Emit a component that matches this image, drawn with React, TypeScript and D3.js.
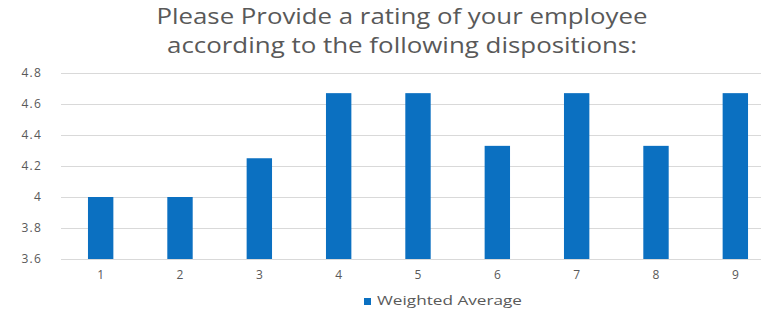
import { useEffect, useRef } from 'react';
import * as d3 from 'd3';

const categories = ['1', '2', '3', '4', '5', '6', '7', '8', '9'];
const weightedAverage = [4.0, 4.0, 4.25, 4.67, 4.67, 4.33, 4.67, 4.33, 4.67];
const yTicks = [3.6, 3.8, 4.0, 4.2, 4.4, 4.6, 4.8];
const titleLines = [
  'Please Provide a rating of your employee',
  'according to the following dispositions:',
];
const titleWidths = [491, 470];
const seriesName = 'Weighted Average';

const App = () => {
  const svgRef = useRef<SVGSVGElement | null>(null);

  useEffect(() => {
    const width = 761;
    const height = 310;
    const left = 61;
    const right = 775; // plot runs past the right edge, like the source image
    const top = 73;
    const bottom = 259;
    const font = "'Open Sans', sans-serif";
    const textColor = '#595959';

    const svg = d3.select(svgRef.current);
    svg.selectAll('*').remove();
    svg.attr('width', width).attr('height', height);

    const x = d3.scaleBand().domain(categories).range([left, right]).paddingInner(0.68).paddingOuter(0.34);
    const y = d3.scaleLinear().domain([3.6, 4.8]).range([bottom, top]);

    // title (source text is stretched wide, so force the measured widths)
    svg.append('g')
      .selectAll('text')
      .data(titleLines)
      .enter()
      .append('text')
      .attr('x', 402)
      .attr('y', (d, i) => 24 + i * 28.5)
      .attr('text-anchor', 'middle')
      .attr('textLength', (d, i) => titleWidths[i])
      .attr('lengthAdjust', 'spacingAndGlyphs')
      .style('font-family', font)
      .style('font-size', '21px')
      .style('fill', textColor)
      .text(d => d);

    // gridlines
    svg.append('g')
      .selectAll('line')
      .data(yTicks)
      .enter()
      .append('line')
      .attr('x1', left)
      .attr('x2', width)
      .attr('y1', d => Math.round(y(d)) + 0.5)
      .attr('y2', d => Math.round(y(d)) + 0.5)
      .attr('stroke', '#d9d9d9')
      .attr('stroke-width', 1);

    // y labels
    svg.append('g')
      .selectAll('text')
      .data(yTicks)
      .enter()
      .append('text')
      .attr('x', 42)
      .attr('y', d => y(d))
      .attr('dy', '0.35em')
      .attr('text-anchor', 'end')
      .style('font-family', font)
      .style('font-size', '12px')
      .style('letter-spacing', '1.2px')
      .style('fill', textColor)
      .text(d => d3.format('~g')(d));

    // bars
    svg.append('g')
      .selectAll('rect')
      .data(weightedAverage)
      .enter()
      .append('rect')
      .attr('x', (d, i) => x(categories[i])!)
      .attr('y', d => y(d))
      .attr('width', x.bandwidth())
      .attr('height', d => bottom - y(d))
      .attr('fill', '#0b70c1');

    // x labels
    svg.append('g')
      .selectAll('text')
      .data(categories)
      .enter()
      .append('text')
      .attr('x', d => x(d)! + x.bandwidth() / 2)
      .attr('y', 279)
      .attr('text-anchor', 'middle')
      .style('font-family', font)
      .style('font-size', '12px')
      .style('fill', textColor)
      .text(d => d);

    // legend
    const legend = svg.append('g');
    legend.append('rect')
      .attr('x', 364)
      .attr('y', 298)
      .attr('width', 7)
      .attr('height', 7)
      .attr('fill', '#0b70c1');
    legend.append('text')
      .attr('x', 377)
      .attr('y', 305)
      .attr('textLength', 145)
      .attr('lengthAdjust', 'spacingAndGlyphs')
      .style('font-family', font)
      .style('font-size', '12.5px')
      .style('fill', textColor)
      .text(seriesName);
  }, []);

  return (
    <div style={{ position: 'absolute', left: 0, top: 0 }}>
      <svg ref={svgRef}></svg>
    </div>
  );
};

export default App;
